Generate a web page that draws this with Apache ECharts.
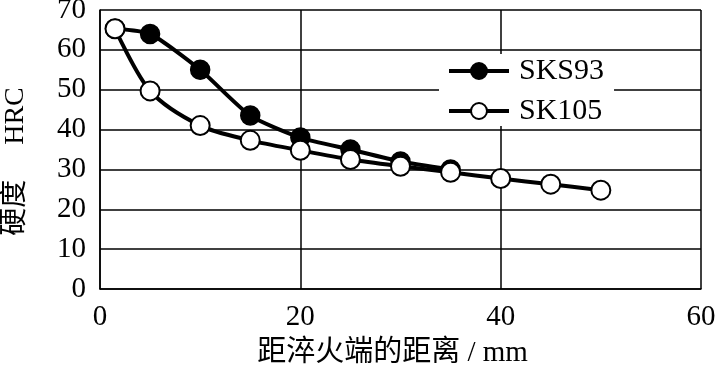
<!DOCTYPE html>
<html><head><meta charset="utf-8">
<script src="https://cdn.jsdelivr.net/npm/echarts@6/dist/echarts.min.js"></script>
<style>html,body{margin:0;padding:0;background:#fff}#c{width:717px;height:372px}</style>
</head><body><div id="c"></div>
<script>
var sks93X = [1.5, 5, 10, 15, 20, 25, 30, 35];
var sks93Y = [65.3, 64, 55, 43.5, 38, 35, 32, 30];
var sk105X = [1.5, 5, 10, 15, 20, 25, 30, 35, 40, 45, 50];
var sk105Y = [65.3, 49.7, 41, 37.3, 34.8, 32.5, 30.8, 29.3, 27.7, 26.3, 24.8];
var seriesNames = ['SKS93', 'SK105'];
var xName = '距淬火端的距离 / mm';
var yName = '硬度　 HRC';

function pairs(xs, ys){ return xs.map(function(x,i){ return [x, ys[i]]; }); }
var serif = '"Liberation Serif", "Times New Roman", serif';
var cjk = '"Liberation Serif", "Noto Sans CJK SC", serif';

var chart = echarts.init(document.getElementById('c'));
chart.setOption({
  animation: false,
  backgroundColor: '#fff',
  grid: {left: 100, right: 16, top: 10, bottom: 83, containLabel: false, outerBoundsMode: 'none'},
  legend: {
    data: seriesNames,
    orient: 'vertical',
    left: 439, top: 54,
    itemWidth: 60, itemHeight: 20, itemGap: 10,
    backgroundColor: '#fff',
    padding: [2, 10, 0, 8],
    lineStyle: {color: '#000', width: 4},
    textStyle: {fontFamily: serif, fontSize: 30, color: '#000', padding: [0,0,0,5]}
  },
  xAxis: {
    type: 'value', min: 0, max: 60, interval: 20,
    name: xName, nameLocation: 'middle', nameGap: 50,
    nameTextStyle: {fontFamily: cjk, fontSize: 29, color: '#000', padding: [0, 16, 0, 0]},
    axisLine: {show: true, lineStyle: {color: '#000', width: 1.5}},
    axisTick: {show: false},
    axisLabel: {fontFamily: serif, fontSize: 29, color: '#000', margin: 14},
    splitLine: {show: true, lineStyle: {color: '#000', width: 1.5}}
  },
  yAxis: {
    type: 'value', min: 0, max: 70, interval: 10,
    name: yName, nameLocation: 'middle', nameGap: 70,
    nameTextStyle: {fontFamily: cjk, fontSize: 28, color: '#000', padding: [0, 24, 0, 0]},
    axisLine: {show: true, lineStyle: {color: '#000', width: 1.5}},
    axisTick: {show: false},
    axisLabel: {fontFamily: serif, fontSize: 29, color: '#000', margin: 14},
    splitLine: {show: true, lineStyle: {color: '#000', width: 1.5}}
  },
  series: [
    {
      name: seriesNames[0], type: 'line', data: pairs(sks93X, sks93Y),
      smooth: 0.2, symbol: 'circle', symbolSize: 19,
      lineStyle: {color: '#000', width: 4},
      itemStyle: {color: '#000', borderColor: '#000', borderWidth: 1.5}
    },
    {
      name: seriesNames[1], type: 'line', data: pairs(sk105X, sk105Y),
      smooth: 0.3, symbol: 'circle', symbolSize: 19,
      lineStyle: {color: '#000', width: 4},
      itemStyle: {color: '#fff', borderColor: '#000', borderWidth: 2}
    }
  ]
});
</script></body></html>
